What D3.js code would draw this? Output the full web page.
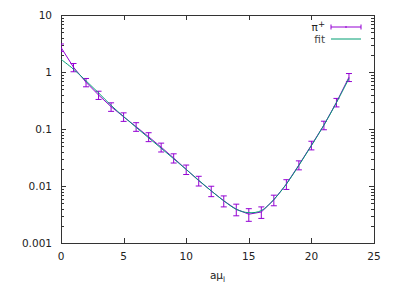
<!DOCTYPE html>
<html>
<head>
<meta charset="utf-8">
<script src="https://cdn.jsdelivr.net/npm/d3@7"></script>
<style>
body { margin: 0; background: #fff; }
text { font-family: "DejaVu Sans", sans-serif; }
</style>
</head>
<body>
<div id="chart"></div>
<script>
// values
var tValues = [0, 1, 2, 3, 4, 5, 6, 7, 8, 9, 10, 11, 12, 13, 14, 15, 16, 17, 18, 19, 20, 21, 22, 23];
var corr = [2.7, 1.21, 0.66, 0.395, 0.246, 0.164, 0.110, 0.073, 0.048, 0.031, 0.0196, 0.0124,
            0.0082, 0.0055, 0.0039, 0.0032, 0.0035, 0.0057, 0.0108, 0.0234, 0.052, 0.117, 0.294, 0.81];
var corrErr = [0.4, 0.2, 0.11, 0.065, 0.042, 0.028, 0.019, 0.013, 0.0085, 0.0057, 0.0037, 0.0024,
               0.0017, 0.0012, 0.0009, 0.0008, 0.0008, 0.0012, 0.0021, 0.0042, 0.009, 0.02, 0.05, 0.13];
var fitValues = [1.67, 1.12, 0.70, 0.43, 0.26, 0.165, 0.107, 0.070, 0.046, 0.030, 0.0195, 0.0126,
                 0.0082, 0.0055, 0.0039, 0.0034, 0.0037, 0.0058, 0.0108, 0.0230, 0.051, 0.117, 0.29, 0.77];
var xTicks = [0, 5, 10, 15, 20, 25];
var yTicks = [0.001, 0.01, 0.1, 1, 10];
var yTickLabels = ["0.001", "0.01", "0.1", "1", "10"];

var margin = { left: 61, right: 21, top: 15, bottom: 53 };
var width = 395 - margin.left - margin.right;
var height = 296 - margin.top - margin.bottom;

var purple = "#9400d3";
var teal = "#009e73";

var svg = d3.select("#chart").append("svg")
    .attr("width", 395)
    .attr("height", 296);

var g = svg.append("g")
    .attr("transform", "translate(" + margin.left + "," + margin.top + ")");

var x = d3.scaleLinear().domain([0, 25]).range([0, width]);
var y = d3.scaleLog().domain([0.001, 10]).range([height, 0]);

svg.append("defs").append("clipPath").attr("id", "plot-clip")
    .append("rect").attr("width", width).attr("height", height);

// minor log ticks
var minor = [];
yTicks.slice(0, -1).forEach(function(d) {
    for (var k = 2; k <= 9; k++) minor.push(d * k);
});

var axisColor = "#333";

// ticks point inward on all four sides
var yLeft = d3.axisRight(y).tickValues(yTicks).tickSize(5).tickFormat("");
var yLeftMinor = d3.axisRight(y).tickValues(minor).tickSize(3).tickFormat("");
var yRight = d3.axisLeft(y).tickValues(yTicks).tickSize(5).tickFormat("");
var yRightMinor = d3.axisLeft(y).tickValues(minor).tickSize(3).tickFormat("");
var xBottom = d3.axisTop(x).tickValues(xTicks).tickSize(5).tickFormat("");
var xTop = d3.axisBottom(x).tickValues(xTicks).tickSize(5).tickFormat("");

function styleAxis(sel) {
    sel.select(".domain").remove();
    sel.selectAll("line").attr("stroke", axisColor).attr("shape-rendering", "crispEdges");
}

g.append("g").call(yLeft).call(styleAxis);
g.append("g").call(yLeftMinor).call(styleAxis);
g.append("g").attr("transform", "translate(" + width + ",0)").call(yRight).call(styleAxis);
g.append("g").attr("transform", "translate(" + width + ",0)").call(yRightMinor).call(styleAxis);
g.append("g").attr("transform", "translate(0," + height + ")").call(xBottom).call(styleAxis);
g.append("g").call(xTop).call(styleAxis);

// border
g.append("rect")
    .attr("x", 0).attr("y", 0)
    .attr("width", width).attr("height", height)
    .attr("fill", "none")
    .attr("stroke", axisColor)
    .attr("stroke-width", 1)
    .attr("shape-rendering", "crispEdges");

// tick labels
g.selectAll(".ylab").data(yTicks).enter().append("text")
    .attr("class", "ylab")
    .attr("x", -9)
    .attr("y", function(d) { return y(d); })
    .attr("dy", "0.35em")
    .attr("text-anchor", "end")
    .attr("font-size", "10.5px")
    .attr("fill", "#222")
    .text(function(d, i) { return yTickLabels[i]; });

g.selectAll(".xlab").data(xTicks).enter().append("text")
    .attr("class", "xlab")
    .attr("x", function(d) { return x(d); })
    .attr("y", height + 13)
    .attr("dy", "0.35em")
    .attr("text-anchor", "middle")
    .attr("font-size", "10.5px")
    .attr("fill", "#222")
    .text(function(d) { return d; });

// x axis label
var xl = g.append("text")
    .attr("x", width / 2)
    .attr("y", height + 36)
    .attr("text-anchor", "middle")
    .attr("font-size", "10.5px")
    .attr("fill", "#222");
xl.append("tspan").text("aμ");
xl.append("tspan").attr("dy", 3).attr("font-size", "7.5px").text("l");

var data = tValues.map(function(t, i) {
    return { t: t, v: corr[i], e: corrErr[i], f: fitValues[i] };
});

var plot = g.append("g").attr("clip-path", "url(#plot-clip)");

// data line
var line = d3.line()
    .x(function(d) { return x(d.t); })
    .y(function(d) { return y(d.v); });

plot.append("path")
    .attr("d", line(data))
    .attr("fill", "none")
    .attr("stroke", purple)
    .attr("stroke-width", 1);

// error bars
var bars = plot.selectAll(".err").data(data).enter().append("g").attr("class", "err");
bars.append("line")
    .attr("x1", function(d) { return x(d.t); })
    .attr("x2", function(d) { return x(d.t); })
    .attr("y1", function(d) { return y(d.v + d.e); })
    .attr("y2", function(d) { return y(d.v - d.e); });
bars.append("line")
    .attr("x1", function(d) { return x(d.t) - 3; })
    .attr("x2", function(d) { return x(d.t) + 3; })
    .attr("y1", function(d) { return y(d.v + d.e); })
    .attr("y2", function(d) { return y(d.v + d.e); });
bars.append("line")
    .attr("x1", function(d) { return x(d.t) - 3; })
    .attr("x2", function(d) { return x(d.t) + 3; })
    .attr("y1", function(d) { return y(d.v - d.e); })
    .attr("y2", function(d) { return y(d.v - d.e); });
bars.selectAll("line").attr("stroke", purple).attr("stroke-width", 1);

// fit curve
var fitLine = d3.line()
    .curve(d3.curveCatmullRom)
    .x(function(d) { return x(d.t); })
    .y(function(d) { return y(d.f); });

plot.append("path")
    .attr("d", fitLine(data))
    .attr("fill", "none")
    .attr("stroke", teal)
    .attr("stroke-width", 1);

// legend
var legend = g.append("g");
var lx1 = 331 - margin.left, lx2 = 361 - margin.left;
var ly1 = 27 - margin.top, ly2 = 39 - margin.top;

var piText = legend.append("text")
    .attr("x", lx1 - 6).attr("y", ly1 + 4)
    .attr("text-anchor", "end").attr("font-size", "10.5px").attr("fill", "#222");
piText.append("tspan").text("π");
piText.append("tspan").attr("dy", -4).attr("font-size", "8.5px").text("+");

legend.append("line")
    .attr("x1", lx1).attr("x2", lx2).attr("y1", ly1).attr("y2", ly1)
    .attr("stroke", purple);
[lx1, lx2].forEach(function(px) {
    legend.append("line")
        .attr("x1", px).attr("x2", px).attr("y1", ly1 - 2.5).attr("y2", ly1 + 2.5)
        .attr("stroke", purple);
});
legend.append("line")
    .attr("x1", (lx1 + lx2) / 2).attr("x2", (lx1 + lx2) / 2).attr("y1", ly1 - 1).attr("y2", ly1 + 1)
    .attr("stroke", purple);

legend.append("text")
    .attr("x", lx1 - 6).attr("y", ly2).attr("dy", "0.35em")
    .attr("text-anchor", "end").attr("font-size", "10.5px").attr("fill", "#444")
    .text("fit");
legend.append("line")
    .attr("x1", lx1).attr("x2", lx2).attr("y1", ly2).attr("y2", ly2)
    .attr("stroke", teal);
</script>
</body>
</html>
